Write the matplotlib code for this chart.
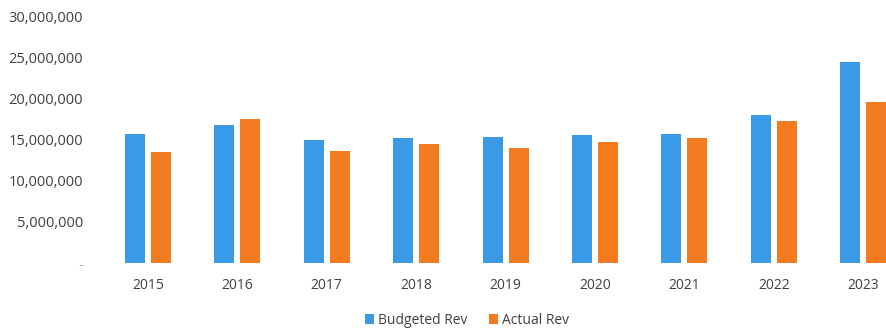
import matplotlib
matplotlib.use("Agg")
import matplotlib.pyplot as plt
from matplotlib.ticker import FuncFormatter
import numpy as np

years = ["2015", "2016", "2017", "2018", "2019", "2020", "2021", "2022", "2023"]
budgeted_rev = [15.7e6, 16.8e6, 14.9e6, 15.2e6, 15.3e6, 15.5e6, 15.7e6, 18.0e6, 24.4e6]
actual_rev = [13.5e6, 17.55e6, 13.6e6, 14.4e6, 14.0e6, 14.65e6, 15.2e6, 17.2e6, 19.5e6]

blue = "#3b9ae6"
orange = "#f47c20"
text_color = "#404040"

plt.rcParams["font.family"] = ["Open Sans", "DejaVu Sans"]

fig = plt.figure(figsize=(8.86, 3.29), dpi=100)
step = 89.4  # pixels per category
left = 148 - step / 2
ax = fig.add_axes([left / 886, 66 / 329, (886 - left) / 886, 247 / 329])

x = np.arange(len(years))
w = 0.224
off = 0.146
ax.bar(x - off, budgeted_rev, width=w, color=blue, label="Budgeted Rev")
ax.bar(x + off, actual_rev, width=w, color=orange, label="Actual Rev")

ax.set_xlim(-0.5, -0.5 + (886 - left) / step)
ax.set_ylim(0, 30e6)
ax.set_yticks(np.arange(0, 30e6 + 1, 5e6))


def fmt(v, pos):
    if v == 0:
        return "-"
    return f"{int(v):,}"


ax.yaxis.set_major_formatter(FuncFormatter(fmt))
ax.set_xticks(x)
ax.set_xticklabels(years)

for s in ax.spines.values():
    s.set_visible(False)
ax.tick_params(axis="both", length=0, colors=text_color)
ax.tick_params(axis="y", pad=(left - 83) * 0.72, labelsize=10.5)
ax.tick_params(axis="x", pad=10.5, labelsize=10)
ax.get_yticklabels()[0].set_color("#aaaaaa")

leg = fig.legend(loc="center", bbox_to_anchor=(467 / 886, 1 - 320 / 329), ncol=2,
                 frameon=False, fontsize=10, handlelength=0.7, handleheight=0.7,
                 handletextpad=0.3, columnspacing=1.5)
for t in leg.get_texts():
    t.set_color(text_color)

fig.savefig("out.png", dpi=100)
